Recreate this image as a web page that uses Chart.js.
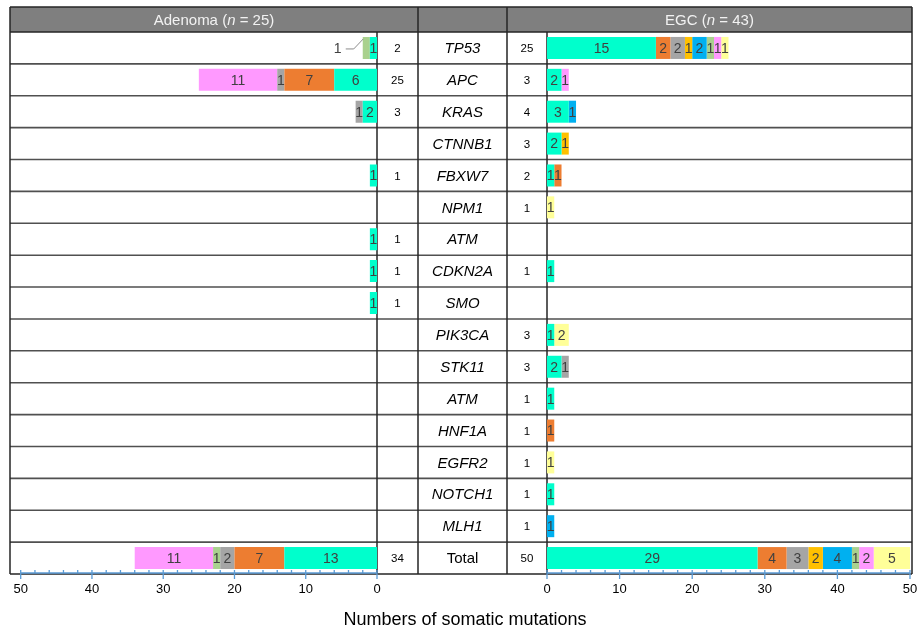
<!DOCTYPE html>
<html>
<head>
<meta charset="utf-8">
<title>Somatic mutations: Adenoma vs EGC</title>
<script src="https://cdn.jsdelivr.net/npm/chart.js@4.4.1/dist/chart.umd.min.js"></script>
<style>
  html, body { margin: 0; padding: 0; background: #fff; }
  #wrap { position: relative; width: 917px; height: 632px; }
  canvas { position: absolute; left: 0; top: 0; }
  #adenomaChart { pointer-events: none; }
</style>
</head>
<body>
<div id="wrap">
  <canvas id="egcChart" width="917" height="632"></canvas>
  <canvas id="adenomaChart" width="917" height="632"></canvas>
</div>
<script>
// ---- data ----
const genes = ['TP53', 'APC', 'KRAS', 'CTNNB1', 'FBXW7', 'NPM1', 'ATM', 'CDKN2A', 'SMO',
  'PIK3CA', 'STK11', 'ATM', 'HNF1A', 'EGFR2', 'NOTCH1', 'MLH1', 'Total'];
const groupNames = ['Adenoma', 'EGC'];
const groupSizes = [25, 43];
const mutationTypes = ['Type 1', 'Type 2', 'Type 3', 'Type 4', 'Type 5', 'Type 6', 'Type 7', 'Type 8'];
const axisTicks = [0, 10, 20, 30, 40, 50];

// Adenoma, one array per mutation type (rows follow genes)
const adenomaType1 = [1, 6, 2, 0, 1, 0, 1, 1, 1, 0, 0, 0, 0, 0, 0, 0, 13];
const adenomaType2 = [0, 7, 0, 0, 0, 0, 0, 0, 0, 0, 0, 0, 0, 0, 0, 0, 7];
const adenomaType3 = [0, 1, 1, 0, 0, 0, 0, 0, 0, 0, 0, 0, 0, 0, 0, 0, 2];
const adenomaType4 = [0, 0, 0, 0, 0, 0, 0, 0, 0, 0, 0, 0, 0, 0, 0, 0, 0];
const adenomaType5 = [0, 0, 0, 0, 0, 0, 0, 0, 0, 0, 0, 0, 0, 0, 0, 0, 0];
const adenomaType6 = [1, 0, 0, 0, 0, 0, 0, 0, 0, 0, 0, 0, 0, 0, 0, 0, 1];
const adenomaType7 = [0, 11, 0, 0, 0, 0, 0, 0, 0, 0, 0, 0, 0, 0, 0, 0, 11];
const adenomaType8 = [0, 0, 0, 0, 0, 0, 0, 0, 0, 0, 0, 0, 0, 0, 0, 0, 0];

// EGC
const egcType1 = [15, 2, 3, 2, 1, 0, 0, 1, 0, 1, 2, 1, 0, 0, 1, 0, 29];
const egcType2 = [2, 0, 0, 0, 1, 0, 0, 0, 0, 0, 0, 0, 1, 0, 0, 0, 4];
const egcType3 = [2, 0, 0, 0, 0, 0, 0, 0, 0, 0, 1, 0, 0, 0, 0, 0, 3];
const egcType4 = [1, 0, 0, 1, 0, 0, 0, 0, 0, 0, 0, 0, 0, 0, 0, 0, 2];
const egcType5 = [2, 0, 1, 0, 0, 0, 0, 0, 0, 0, 0, 0, 0, 0, 0, 1, 4];
const egcType6 = [1, 0, 0, 0, 0, 0, 0, 0, 0, 0, 0, 0, 0, 0, 0, 0, 1];
const egcType7 = [1, 1, 0, 0, 0, 0, 0, 0, 0, 0, 0, 0, 0, 0, 0, 0, 2];
const egcType8 = [1, 0, 0, 0, 0, 1, 0, 0, 0, 2, 0, 0, 0, 1, 0, 0, 5];

// labels drawn outside the bar with a leader line: [row, type]
const adenomaCallouts = [[0, 5]];

// ---- style / layout ----
const FONT = "'Liberation Sans', Arial, Helvetica, sans-serif";
const typeColors = ['#00FFCC', '#ED7D31', '#A5A5A5', '#FFC000', '#00B0F0', '#A9D18E', '#FF99FF', '#FFFF99'];
const TABLE_LEFT = 10, TABLE_RIGHT = 912, HEADER_TOP = 7, ROWS_TOP = 32, ROWS_BOTTOM = 574;
const LEFT_PLOT_L = 20.7, LEFT_PLOT_R = 377, GENE_L = 418, GENE_R = 507;
const RIGHT_PLOT_L = 547, RIGHT_PLOT_R = 910;
const W = 917, H = 632;

const adenomaSeries = [adenomaType1, adenomaType2, adenomaType3, adenomaType4,
  adenomaType5, adenomaType6, adenomaType7, adenomaType8];
const egcSeries = [egcType1, egcType2, egcType3, egcType4, egcType5, egcType6, egcType7, egcType8];

const rowSum = (series, i) => series.reduce((s, arr) => s + arr[i], 0);

function makeDatasets(series) {
  return series.map((arr, k) => ({
    label: mutationTypes[k],
    data: arr,
    backgroundColor: typeColors[k],
    borderWidth: 0,
    barPercentage: 0.69,
    categoryPercentage: 1
  }));
}

// numbers inside the bar segments
const segmentLabels = {
  id: 'segmentLabels',
  afterDatasetsDraw(chart, args, opts) {
    const ctx = chart.ctx;
    const callouts = opts.callouts || [];
    ctx.save();
    ctx.font = '14px ' + FONT;
    ctx.fillStyle = '#404040';
    ctx.textAlign = 'center';
    ctx.textBaseline = 'middle';
    chart.data.datasets.forEach((ds, di) => {
      const meta = chart.getDatasetMeta(di);
      meta.data.forEach((bar, i) => {
        const v = ds.data[i];
        if (!v) return;
        const left = Math.min(bar.x, bar.base);
        const right = Math.max(bar.x, bar.base);
        if (callouts.some(c => c[0] === i && c[1] === di)) {
          const top = bar.y - bar.height / 2;
          ctx.strokeStyle = '#8c8c8c';
          ctx.lineWidth = 1;
          ctx.beginPath();
          ctx.moveTo(left - 17, bar.y + 1);
          ctx.lineTo(left - 9, bar.y + 1);
          ctx.lineTo(left + 0.5, top + 2);
          ctx.stroke();
          ctx.fillText(v, left - 25, bar.y + 1);
        } else {
          ctx.fillText(v, (left + right) / 2, bar.y + 1);
        }
      });
    });
    ctx.restore();
  }
};

// blue axis line with minor / major ticks
const axisTicksPlugin = {
  id: 'axisTicks',
  afterDraw(chart) {
    const ctx = chart.ctx;
    const x = chart.scales.x;
    const yb = chart.chartArea.bottom - 1;
    ctx.save();
    ctx.strokeStyle = '#5B9BD5';
    ctx.lineWidth = 1.3;
    ctx.beginPath();
    ctx.moveTo(x.left, yb);
    ctx.lineTo(x.right, yb);
    x.ticks.forEach(t => {
      const px = x.getPixelForValue(t.value);
      const major = axisTicks.includes(t.value);
      ctx.moveTo(px, yb - 3);
      ctx.lineTo(px, yb + (major ? 6 : 0));
    });
    ctx.stroke();
    ctx.restore();
  }
};

function headerText(ctx, name, n, cx, cy) {
  const a = name + ' (', b = 'n', c = ' = ' + n + ')';
  ctx.font = '15px ' + FONT;
  const wa = ctx.measureText(a).width, wc = ctx.measureText(c).width;
  ctx.font = 'italic 15px ' + FONT;
  const wb = ctx.measureText(b).width;
  let x = cx - (wa + wb + wc) / 2;
  ctx.textAlign = 'left';
  ctx.font = '15px ' + FONT;
  ctx.fillText(a, x, cy);
  x += wa;
  ctx.font = 'italic 15px ' + FONT;
  ctx.fillText(b, x, cy);
  x += wb;
  ctx.font = '15px ' + FONT;
  ctx.fillText(c, x, cy);
}

// table: header band, grid, gene names, counts and axis title
const tablePlugin = {
  id: 'table',
  beforeDraw(chart) {
    const ctx = chart.ctx;
    const top = chart.chartArea.top, bottom = chart.chartArea.bottom;
    const n = genes.length;
    const rowH = (bottom - top) / n;
    ctx.save();
    ctx.fillStyle = '#fff';
    ctx.fillRect(0, 0, W, H);

    // header band
    ctx.fillStyle = '#7F7F7F';
    ctx.fillRect(TABLE_LEFT, HEADER_TOP, TABLE_RIGHT - TABLE_LEFT, top - HEADER_TOP);
    ctx.fillStyle = '#F2F2F2';
    ctx.textBaseline = 'middle';
    const hy = (HEADER_TOP + top) / 2 + 1;
    headerText(ctx, groupNames[0], groupSizes[0], (TABLE_LEFT + GENE_L) / 2, hy);
    headerText(ctx, groupNames[1], groupSizes[1], (GENE_R + TABLE_RIGHT) / 2, hy);

    // horizontal lines
    ctx.strokeStyle = '#505050';
    ctx.lineWidth = 1.6;
    ctx.beginPath();
    for (let i = 1; i < n; i++) {
      const y = top + i * rowH;
      ctx.moveTo(TABLE_LEFT, y);
      ctx.lineTo(TABLE_RIGHT, y);
    }
    ctx.stroke();
    ctx.strokeStyle = '#262626';
    ctx.lineWidth = 1.5;
    ctx.beginPath();
    ctx.moveTo(TABLE_LEFT, HEADER_TOP);
    ctx.lineTo(TABLE_RIGHT, HEADER_TOP);
    ctx.moveTo(TABLE_LEFT, top);
    ctx.lineTo(TABLE_RIGHT, top);
    ctx.moveTo(TABLE_LEFT, bottom);
    ctx.lineTo(TABLE_RIGHT, bottom);
    ctx.moveTo(TABLE_LEFT, HEADER_TOP);
    ctx.lineTo(TABLE_LEFT, bottom);
    ctx.moveTo(TABLE_RIGHT, HEADER_TOP);
    ctx.lineTo(TABLE_RIGHT, bottom);
    ctx.moveTo(GENE_L, HEADER_TOP);
    ctx.lineTo(GENE_L, bottom);
    ctx.moveTo(GENE_R, HEADER_TOP);
    ctx.lineTo(GENE_R, bottom);
    ctx.moveTo(RIGHT_PLOT_L, top);
    ctx.lineTo(RIGHT_PLOT_L, bottom);
    ctx.moveTo(LEFT_PLOT_R, top);
    ctx.lineTo(LEFT_PLOT_R, bottom);
    ctx.stroke();

    // gene names and counts
    ctx.fillStyle = '#000';
    ctx.textAlign = 'center';
    genes.forEach((g, i) => {
      const cy = top + (i + 0.5) * rowH + 1;
      ctx.font = (g === 'Total' ? '' : 'italic ') + '15px ' + FONT;
      ctx.fillText(g, (GENE_L + GENE_R) / 2, cy);
      ctx.font = '11.5px ' + FONT;
      const a = rowSum(adenomaSeries, i), e = rowSum(egcSeries, i);
      if (a) ctx.fillText(a, (LEFT_PLOT_R + GENE_L) / 2, cy);
      if (e) ctx.fillText(e, (GENE_R + RIGHT_PLOT_L) / 2, cy);
    });

    // axis title
    ctx.font = '18px ' + FONT;
    ctx.fillText('Numbers of somatic mutations', 465, 620);
    ctx.restore();
  }
};

function makeOptions(reverse, padLeft, padRight, callouts) {
  return {
    responsive: false,
    devicePixelRatio: 1,
    animation: false,
    indexAxis: 'y',
    layout: {
      autoPadding: false,
      padding: { left: padLeft, right: padRight, top: ROWS_TOP, bottom: 0 }
    },
    scales: {
      x: {
        stacked: true,
        reverse: reverse,
        min: 0,
        max: 50,
        afterFit: scale => {
          scale.height = H - ROWS_BOTTOM;
          scale.paddingLeft = 0;
          scale.paddingRight = 0;
        },
        grid: { display: false, drawTicks: false },
        border: { display: false },
        ticks: {
          stepSize: 2,
          autoSkip: false,
          maxRotation: 0,
          padding: 8,
          color: '#000',
          font: { family: FONT, size: 13 },
          callback: v => axisTicks.includes(v) ? v : ''
        }
      },
      y: { stacked: true, display: false }
    },
    plugins: {
      legend: { display: false },
      tooltip: { enabled: false },
      segmentLabels: { callouts: callouts }
    }
  };
}

new Chart(document.getElementById('egcChart'), {
  type: 'bar',
  data: { labels: genes, datasets: makeDatasets(egcSeries) },
  options: makeOptions(false, RIGHT_PLOT_L, W - RIGHT_PLOT_R, []),
  plugins: [tablePlugin, segmentLabels, axisTicksPlugin]
});

new Chart(document.getElementById('adenomaChart'), {
  type: 'bar',
  data: { labels: genes, datasets: makeDatasets(adenomaSeries) },
  options: makeOptions(true, LEFT_PLOT_L, W - LEFT_PLOT_R, adenomaCallouts),
  plugins: [segmentLabels, axisTicksPlugin]
});
</script>
</body>
</html>
